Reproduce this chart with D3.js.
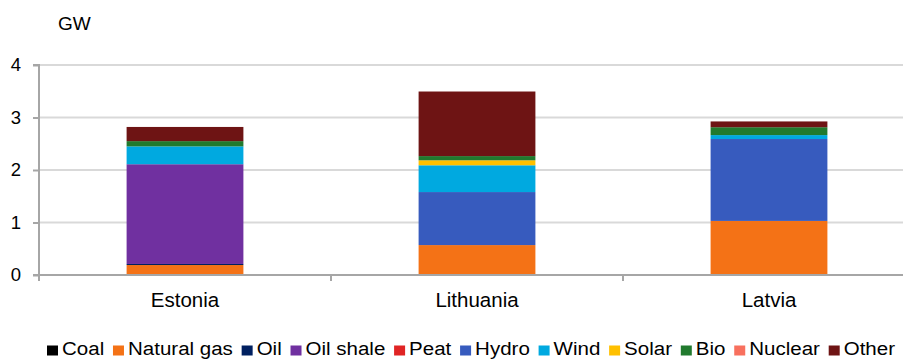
<!DOCTYPE html>
<html><head><meta charset="utf-8">
<script src="https://cdn.jsdelivr.net/npm/d3@7"></script>
<style>body{margin:0;background:#fff}svg{display:block;font-family:"Liberation Sans",Arial,sans-serif}</style>
</head><body><svg id="c" width="903" height="359"></svg>
<script>
const categories = ["Estonia", "Lithuania", "Latvia"];
const seriesNames = ["Coal","Natural gas","Oil","Oil shale","Peat","Hydro","Wind","Solar","Bio","Nuclear","Other"];
const seriesColors = ["#000000","#f47216","#002060","#7030a0","#e02424","#375bbe","#00a9e0","#ffc000","#217a2e","#f8705e","#6e1414"];
const estonia   = [0, 0.19, 0.02, 1.90, 0, 0,    0.34,  0,     0.10, 0, 0.27];
const lithuania = [0, 0.57, 0,    0,    0, 1.01, 0.51,  0.095, 0.08, 0, 1.23];
const latvia    = [0, 1.03, 0,    0,    0, 1.56, 0.075, 0,     0.15, 0, 0.11];
const yTicks = [0, 1, 2, 3, 4];
const unitLabel = "GW";

const values = [estonia, lithuania, latvia];
const table = categories.map((c, i) => {
  const row = {category: c};
  seriesNames.forEach((s, j) => row[s] = values[i][j]);
  return row;
});

const svg = d3.select("#c");
const W = 903;
const x = d3.scaleBand().domain(categories).range([39, 915]).paddingInner(0.6).paddingOuter(0.3);
const y = d3.scaleLinear().domain([0, 4]).range([275, 65]);

// gridlines
svg.append("g").selectAll("line").data(yTicks.filter(d => d > 0)).join("line")
  .attr("x1", 39).attr("x2", W).attr("y1", d => y(d)).attr("y2", d => y(d))
  .attr("stroke", "#d9d9d9").attr("stroke-width", 2);

// stacks
const stack = d3.stack().keys(seriesNames)(table);
svg.append("g").selectAll("g").data(stack).join("g")
  .attr("fill", (d, i) => seriesColors[i])
  .selectAll("rect").data(d => d).join("rect")
  .attr("x", d => x(d.data.category))
  .attr("width", x.bandwidth())
  .attr("y", d => y(d[1]))
  .attr("height", d => Math.max(0, y(d[0]) - y(d[1])));

// y axis
const yAxis = d3.axisLeft(y).tickValues(yTicks).tickSize(6).tickPadding(12).tickFormat(d3.format("d"));
const gy = svg.append("g").attr("transform", "translate(39,0)").call(yAxis);
gy.select(".domain").attr("stroke", "#a6a6a6").attr("stroke-width", 2).attr("d", "M-6," + y(4) + "H0V" + y(0));
gy.selectAll(".tick line").attr("stroke", "#a6a6a6").attr("stroke-width", 2);
gy.selectAll(".tick text").attr("font-size", 18.5).attr("fill", "#000").attr("font-family", "Liberation Sans, Arial, sans-serif");

// x axis
const gx = svg.append("g").attr("transform", "translate(0,275)");
gx.append("line").attr("x1", 33).attr("x2", W).attr("y1", 0).attr("y2", 0).attr("stroke", "#a6a6a6").attr("stroke-width", 2);
const seps = categories.slice(1).map(c => x(c) - x.step() * x.paddingInner() / 2);
gx.selectAll("line.sep").data([39].concat(seps)).join("line").attr("class", "sep")
  .attr("x1", d => d).attr("x2", d => d).attr("y1", 0).attr("y2", 6)
  .attr("stroke", "#a6a6a6").attr("stroke-width", 2);
gx.selectAll("text").data(categories).join("text")
  .attr("x", d => x(d) + x.bandwidth() / 2).attr("y", 32)
  .attr("text-anchor", "middle").attr("font-size", 20.5).attr("fill", "#000").text(d => d);

// unit label
svg.append("text").attr("x", 58).attr("y", 30).attr("font-size", 19).attr("fill", "#000").text(unitLabel);

// legend
const sx = 1.08;
const lg = svg.append("g").attr("transform", "translate(0,355)");
const items = lg.selectAll("g").data(seriesNames).join("g");
items.append("rect").attr("width", 11).attr("height", 10).attr("y", -9.5).attr("fill", (d, i) => seriesColors[i]);
items.append("text").attr("transform", "translate(15,0) scale(" + sx + ",1)")
  .attr("font-size", 19).attr("fill", "#000").text(d => d);
const widths = [];
items.each(function() { widths.push(15 + sx * this.querySelector("text").getComputedTextLength()); });
const startX = 47, endX = 895;
const gap = (endX - startX - d3.sum(widths)) / (widths.length - 1);
let cx = startX;
items.attr("transform", (d, i) => { const t = "translate(" + cx + ",0)"; cx += widths[i] + gap; return t; });
</script></body></html>
